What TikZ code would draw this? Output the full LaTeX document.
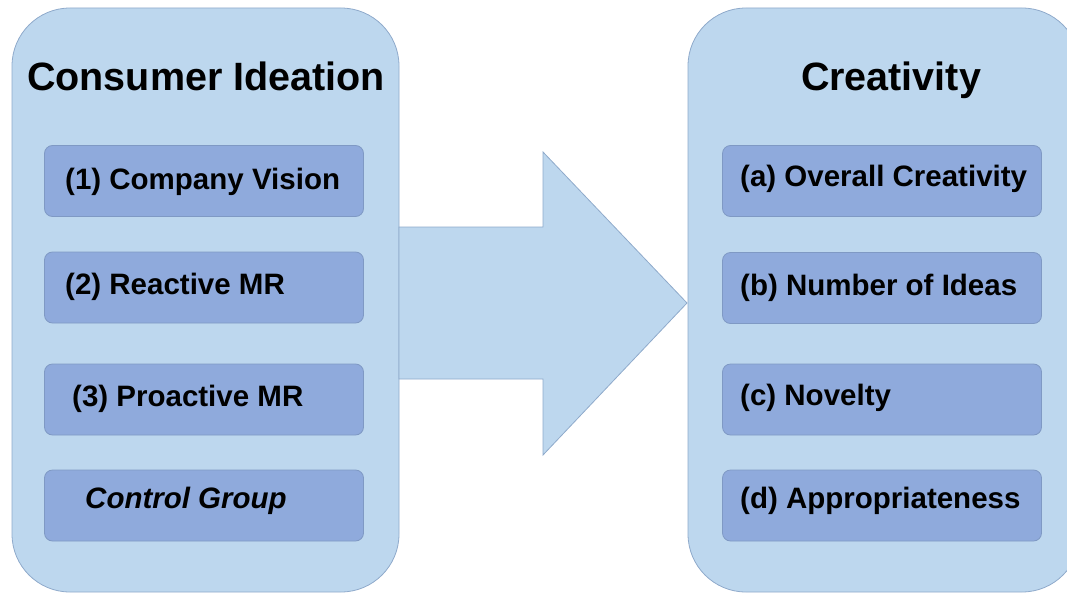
\documentclass[tikz,border=0pt]{standalone}
\usepackage{fontspec}
\setmainfont{Liberation Sans}
\definecolor{bigfill}{HTML}{BDD7EE}
\definecolor{bigline}{HTML}{8FAACB}
\definecolor{infill}{HTML}{8FAADC}
\definecolor{inline}{HTML}{7F99C4}
\tikzset{
  bigbox/.style={draw=bigline, fill=bigfill, line width=0.8pt, rounded corners=58pt},
  inbox/.style={draw=inline, fill=infill, line width=0.8pt, rounded corners=8pt, minimum width=319pt, minimum height=71pt, inner sep=0pt},
  title/.style={font=\bfseries\fontsize{39.5}{44}\selectfont, inner sep=0pt},
  lab/.style={font=\bfseries\fontsize{29.5}{33}\selectfont, inner sep=0pt, anchor=west},
  bigarrow/.style={draw=bigline, fill=bigfill, line width=0.8pt, line join=miter}
}
\begin{document}
\begin{tikzpicture}[x=1pt,y=-1pt]
\useasboundingbox (0,0) rectangle (1067,594);
% big containers
\draw[bigbox] (12,8) rectangle (399,592);
\draw[bigbox] (688,8) rectangle (1080,592);
% named coordinates of the container sides
\coordinate (lside) at (399,303);
\coordinate (rside) at (687,303);
% big arrow
\draw[bigarrow] (lside |- 0,227) -- (543,227) -- (543,152) -- (rside) -- (543,455) -- (543,379) -- (lside |- 0,379) -- cycle;
% titles
\node[title] (t1) at (206,76) {Consumer Ideation};
\node[title] (t2) at (891,80) {Creativity};
% left inner boxes
\node[inbox] (l1) at (204,181) {};
\node[inbox] (l2) at (204,287.5) {};
\node[inbox] (l3) at (204,399.5) {};
\node[inbox] (l4) at (204,505.5) {};
\node[lab] (l1t) at (65,182) {(1) Company Vision};
\node[lab] (l2t) at (65,287) {(2) Reactive MR};
\node[lab] (l3t) at (72,399) {(3) Proactive MR};
\node[lab, font=\bfseries\itshape\fontsize{29.5}{33}\selectfont] (l4t) at (85,501) {Control Group};
% right inner boxes
\node[inbox] (r1) at (882,181) {};
\node[inbox] (r2) at (882,288) {};
\node[inbox] (r3) at (882,399.5) {};
\node[inbox] (r4) at (882,505.5) {};
\node[lab] (r1t) at (740,179) {(a) Overall Creativity};
\node[lab] (r2t) at (740,288) {(b) Number of Ideas};
\node[lab] (r3t) at (740,398) {(c) Novelty};
\node[lab] (r4t) at (740,501) {(d) Appropriateness};
\end{tikzpicture}
\end{document}
